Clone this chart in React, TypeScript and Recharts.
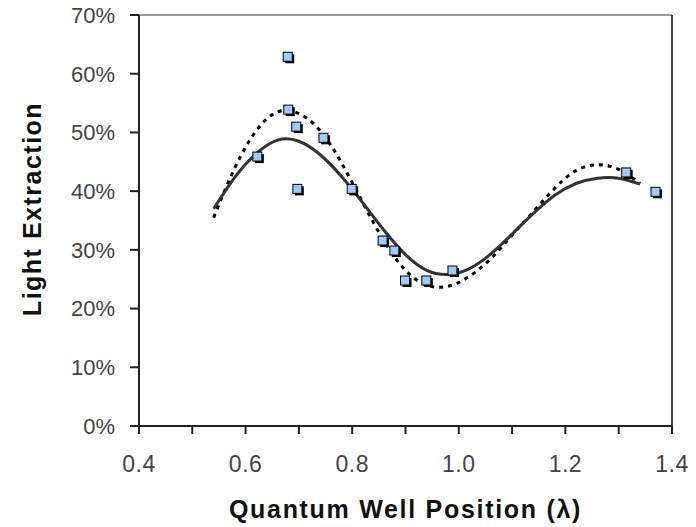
import React from 'react';
import { ComposedChart, Line, Scatter, XAxis, YAxis, ReferenceLine } from 'recharts';

// measured positions (λ) and light extraction
const pointX = [0.623, 0.68, 0.681, 0.696, 0.698, 0.747, 0.80, 0.858, 0.88, 0.90, 0.94, 0.989, 1.315, 1.37];
const pointY = [0.458, 0.628, 0.538, 0.509, 0.403, 0.49, 0.403, 0.315, 0.298, 0.247, 0.247, 0.264, 0.431, 0.398];

// fit curves
const curveX = [0.54, 0.58, 0.62, 0.66, 0.70, 0.74, 0.78, 0.82, 0.86, 0.90, 0.94, 0.98, 1.02, 1.06, 1.10, 1.14, 1.18, 1.22, 1.26, 1.30, 1.34];
const solidY = [0.37, 0.424, 0.464, 0.487, 0.485, 0.462, 0.425, 0.38, 0.333, 0.292, 0.265, 0.258, 0.268, 0.293, 0.327, 0.362, 0.393, 0.413, 0.422, 0.422, 0.412];
const dottedY = [0.355, 0.44, 0.503, 0.535, 0.532, 0.503, 0.448, 0.38, 0.315, 0.265, 0.24, 0.238, 0.255, 0.285, 0.325, 0.365, 0.405, 0.435, 0.445, 0.437, 0.413];

const xTicks = [0.4, 0.5, 0.6, 0.7, 0.8, 0.9, 1.0, 1.1, 1.2, 1.3, 1.4];
const yTicks = [0, 0.1, 0.2, 0.3, 0.4, 0.5, 0.6, 0.7];
const xLabeled = [0.4, 0.6, 0.8, 1.0, 1.2, 1.4];

const points = pointX.map((x, i) => ({ x, y: pointY[i] }));
const solid = curveX.map((x, i) => ({ x, y: solidY[i] }));
const dotted = curveX.map((x, i) => ({ x, y: dottedY[i] }));

const font = '"Liberation Sans", Arial, sans-serif';

const SquareDot = (props: any) => {
    const { cx, cy } = props;
    if (cx == null || cy == null) return null;
    return (
        <g>
            <rect x={cx - 3} y={cy - 3} width={9} height={9} fill="#000" />
            <rect x={cx - 5} y={cy - 5} width={9} height={9} fill="#99ccff" stroke="#000" strokeWidth={1} />
        </g>
    );
};

const YTitle = (props: any) => {
    const { viewBox } = props;
    const cx = viewBox.x + 32;
    const cy = 209;
    return (
        <text x={cx} y={cy} transform={`rotate(-90, ${cx}, ${cy})`} textAnchor="middle" dominantBaseline="central"
            fontFamily={font} fontWeight="bold" fontSize={25} letterSpacing={1.5} fill="#111">
            Light Extraction
        </text>
    );
};

const XTitle = (props: any) => {
    const { viewBox } = props;
    return (
        <text x={viewBox.x + viewBox.width / 2} y={518} textAnchor="middle"
            fontFamily={font} fontWeight="bold" fontSize={25} letterSpacing={1.7} fill="#111">
            Quantum Well Position (λ)
        </text>
    );
};

export default function App() {
    return (
        <div style={{ position: 'absolute', left: 0, top: 0, width: 696, height: 527, background: '#fff' }}>
            <ComposedChart width={696} height={527} margin={{ top: 15, right: 24, bottom: 0, left: 0 }}>
                <XAxis
                    type="number"
                    dataKey="x"
                    domain={[0.4, 1.4]}
                    ticks={xTicks}
                    interval={0}
                    tickFormatter={(v) => (xLabeled.some(t => Math.abs(t - v) < 1e-6) ? v.toFixed(1) : '')}
                    height={101}
                    tickSize={8}
                    tickMargin={22}
                    stroke="#222"
                    strokeWidth={2}
                    tick={{ fill: '#444', fontSize: 23, fontFamily: font, letterSpacing: 0.5 }}
                    label={<XTitle />}
                />
                <YAxis
                    type="number"
                    dataKey="y"
                    domain={[0, 0.7]}
                    ticks={yTicks}
                    interval={0}
                    tickFormatter={(v) => `${Math.round(v * 100)}%`}
                    width={139}
                    tickSize={9}
                    tickMargin={15}
                    stroke="#222"
                    strokeWidth={2}
                    tick={{ fill: '#444', fontSize: 22, fontFamily: font }}
                    label={<YTitle />}
                />
                <ReferenceLine y={0.7} stroke="#999" strokeWidth={2} />
                <ReferenceLine x={1.4} stroke="#444" strokeWidth={2} />
                <Line data={dotted} dataKey="y" type="natural" stroke="#000" strokeWidth={3}
                    strokeDasharray="4 5" dot={false} activeDot={false} isAnimationActive={false} />
                <Line data={solid} dataKey="y" type="natural" stroke="#333" strokeWidth={3}
                    dot={false} activeDot={false} isAnimationActive={false} />
                <Scatter data={points} dataKey="y" shape={<SquareDot />} isAnimationActive={false} />
            </ComposedChart>
        </div>
    );
}
